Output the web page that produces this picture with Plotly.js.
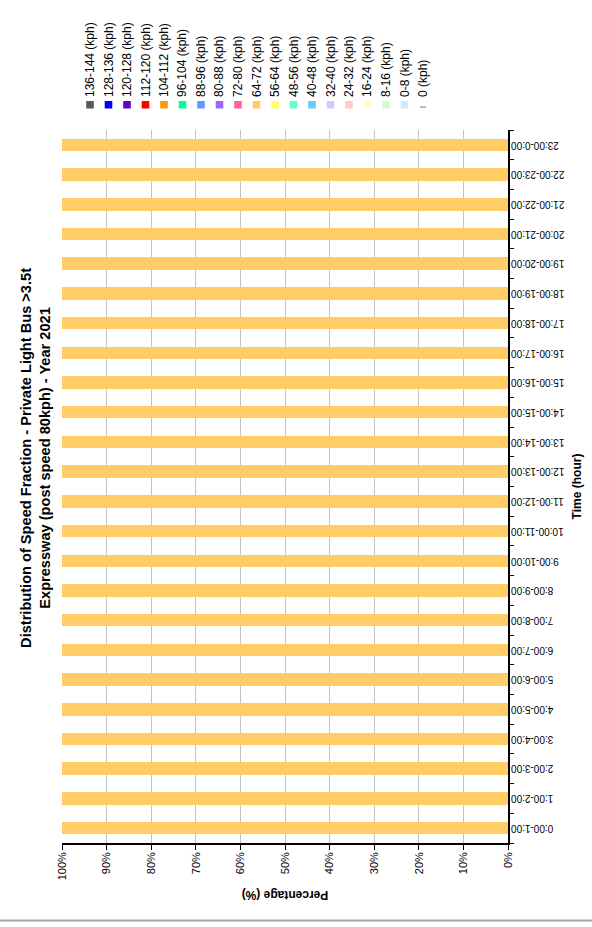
<!DOCTYPE html>
<html>
<head>
<meta charset="utf-8">
<script src="https://cdn.plot.ly/plotly-3.0.1.min.js"></script>
<style>
html,body{margin:0;padding:0;overflow:hidden;background:#fff;}
#wrap{position:absolute;left:0;top:0;width:927px;height:592px;transform-origin:0 0;transform:translate(0px,927px) rotate(-90deg);}
</style>
</head>
<body>
<div id="wrap"></div>
<script>
// Time categories (hour bands)
const hours = ['0:00-1:00','1:00-2:00','2:00-3:00','3:00-4:00','4:00-5:00','5:00-6:00','6:00-7:00','7:00-8:00','8:00-9:00','9:00-10:00','10:00-11:00','11:00-12:00','12:00-13:00','13:00-14:00','14:00-15:00','15:00-16:00','16:00-17:00','17:00-18:00','18:00-19:00','19:00-20:00','20:00-21:00','21:00-22:00','22:00-23:00','23:00-0:00'];

// Speed bins (stack order, bottom to top)
const speedBins = ['0 (kph)','0-8 (kph)','8-16 (kph)','16-24 (kph)','24-32 (kph)','32-40 (kph)','40-48 (kph)','48-56 (kph)','56-64 (kph)','64-72 (kph)','72-80 (kph)','80-88 (kph)','88-96 (kph)','96-104 (kph)','104-112 (kph)','112-120 (kph)','120-128 (kph)','128-136 (kph)','136-144 (kph)'];
const binColors = ['#FFFFFF','#CCECFF','#CCFFCC','#FFFFCC','#FFCCCC','#CCCCFF','#66CCFF','#66FFCC','#FFFF66','#FFCC66','#FF6699','#9966FF','#6699FF','#00FF99','#FF9900','#FF0000','#6600CC','#0000FF','#595959'];

// Percentage share per hour for each speed bin
const s0      = [0,0,0,0,0,0,0,0,0,0,0,0,0,0,0,0,0,0,0,0,0,0,0,0];
const s0_8    = [0,0,0,0,0,0,0,0,0,0,0,0,0,0,0,0,0,0,0,0,0,0,0,0];
const s8_16   = [0,0,0,0,0,0,0,0,0,0,0,0,0,0,0,0,0,0,0,0,0,0,0,0];
const s16_24  = [0,0,0,0,0,0,0,0,0,0,0,0,0,0,0,0,0,0,0,0,0,0,0,0];
const s24_32  = [0,0,0,0,0,0,0,0,0,0,0,0,0,0,0,0,0,0,0,0,0,0,0,0];
const s32_40  = [0,0,0,0,0,0,0,0,0,0,0,0,0,0,0,0,0,0,0,0,0,0,0,0];
const s40_48  = [0,0,0,0,0,0,0,0,0,0,0,0,0,0,0,0,0,0,0,0,0,0,0,0];
const s48_56  = [0,0,0,0,0,0,0,0,0,0,0,0,0,0,0,0,0,0,0,0,0,0,0,0];
const s56_64  = [0,0,0,0,0,0,0,0,0,0,0,0,0,0,0,0,0,0,0,0,0,0,0,0];
const s64_72  = [100,100,100,100,100,100,100,100,100,100,100,100,100,100,100,100,100,100,100,100,100,100,100,100];
const s72_80  = [0,0,0,0,0,0,0,0,0,0,0,0,0,0,0,0,0,0,0,0,0,0,0,0];
const s80_88  = [0,0,0,0,0,0,0,0,0,0,0,0,0,0,0,0,0,0,0,0,0,0,0,0];
const s88_96  = [0,0,0,0,0,0,0,0,0,0,0,0,0,0,0,0,0,0,0,0,0,0,0,0];
const s96_104 = [0,0,0,0,0,0,0,0,0,0,0,0,0,0,0,0,0,0,0,0,0,0,0,0];
const s104_112= [0,0,0,0,0,0,0,0,0,0,0,0,0,0,0,0,0,0,0,0,0,0,0,0];
const s112_120= [0,0,0,0,0,0,0,0,0,0,0,0,0,0,0,0,0,0,0,0,0,0,0,0];
const s120_128= [0,0,0,0,0,0,0,0,0,0,0,0,0,0,0,0,0,0,0,0,0,0,0,0];
const s128_136= [0,0,0,0,0,0,0,0,0,0,0,0,0,0,0,0,0,0,0,0,0,0,0,0];
const s136_144= [0,0,0,0,0,0,0,0,0,0,0,0,0,0,0,0,0,0,0,0,0,0,0,0];

const seriesValues = [s0,s0_8,s8_16,s16_24,s24_32,s32_40,s40_48,s48_56,s56_64,s64_72,s72_80,s80_88,s88_96,s96_104,s104_112,s112_120,s120_128,s128_136,s136_144];

const FONT = 'Liberation Sans, Arial, sans-serif';

// chart geometry (unrotated chart, drawn then turned a quarter turn)
const W = 927, H = 592;
const M = {l: 84, r: 130, t: 62, b: 84};
const PW = W - M.l - M.r, PH = H - M.t - M.b;
const px = v => (v - M.l) / PW;
const py = v => (H - M.b - v) / PH;

const traces = speedBins.map((name, i) => ({
  type: 'bar',
  name: name,
  x: hours,
  y: seriesValues[i],
  marker: {color: binColors[i], line: {width: 0}},
  showlegend: false,
  hoverinfo: 'skip'
}));

// hand-built legend (top entry = fastest bin)
const shapes = [];
const annotations = [];
const legendOrder = speedBins.map((_, i) => i).reverse();
legendOrder.forEach((idx, k) => {
  const cy = 90 + 18.5 * k;
  if (idx === 0) {
    shapes.push({type: 'line', xref: 'paper', yref: 'paper',
      x0: px(820), x1: px(820), y0: py(cy - 3), y1: py(cy + 3),
      line: {color: '#777777', width: 1}});
  } else {
    shapes.push({type: 'rect', xref: 'paper', yref: 'paper',
      x0: px(818.5), x1: px(826), y0: py(cy - 3.8), y1: py(cy + 3.8),
      fillcolor: binColors[idx], line: {width: 0}});
  }
  annotations.push({xref: 'paper', yref: 'paper', x: px(828), y: py(cy),
    xanchor: 'left', yanchor: 'middle', showarrow: false,
    text: speedBins[idx], font: {family: FONT, size: 12, color: '#000000'}});
});

// frame line at the bottom edge of the image
shapes.push({type: 'line', xref: 'paper', yref: 'paper',
  x0: px(6.5), x1: px(6.5), y0: py(H + 5), y1: py(-5),
  line: {color: '#a6a6a6', width: 2}});

const layout = {
  width: W,
  height: H,
  margin: M,
  paper_bgcolor: '#ffffff',
  plot_bgcolor: '#ffffff',
  font: {family: FONT, color: '#000000', size: 11},
  barmode: 'stack',
  bargap: 0.58,
  showlegend: false,
  title: {
    text: '<b>Distribution of Speed Fraction - Private Light Bus >3.5t<br>Expressway (post speed 80kph) - Year 2021</b>',
    font: {family: FONT, size: 14.6, color: '#000000'},
    x: 0.506, xanchor: 'center', xref: 'container',
    y: 0.948, yanchor: 'top', yref: 'container'
  },
  xaxis: {
    type: 'category',
    tickangle: -90,
    tickfont: {family: FONT, size: 10, color: '#000000'},
    ticks: 'outside', tickson: 'boundaries', ticklen: 4, tickcolor: '#000000', tickwidth: 1,
    ticklabelstandoff: -3,
    showline: true, linecolor: '#000000', linewidth: 2,
    showgrid: false, zeroline: false,
    automargin: false,
    title: {text: '<b>Time (hour)</b>', font: {family: FONT, size: 12, color: '#000000'}, standoff: 9}
  },
  yaxis: {
    range: [0, 100],
    dtick: 10,
    ticksuffix: '%',
    tickfont: {family: FONT, size: 11, color: '#000000'},
    ticks: 'outside', ticklen: 5, tickcolor: '#000000', tickwidth: 1,
    showline: true, linecolor: '#000000', linewidth: 2,
    showgrid: true, gridcolor: '#c4c4c4', gridwidth: 1,
    zeroline: false,
    automargin: false,
    title: {text: '<b>Percentage (%)</b>', font: {family: FONT, size: 12, color: '#000000'}, standoff: 7}
  },
  shapes: shapes,
  annotations: annotations
};

Plotly.newPlot('wrap', traces, layout, {displayModeBar: false, staticPlot: true});
</script>
</body>
</html>
